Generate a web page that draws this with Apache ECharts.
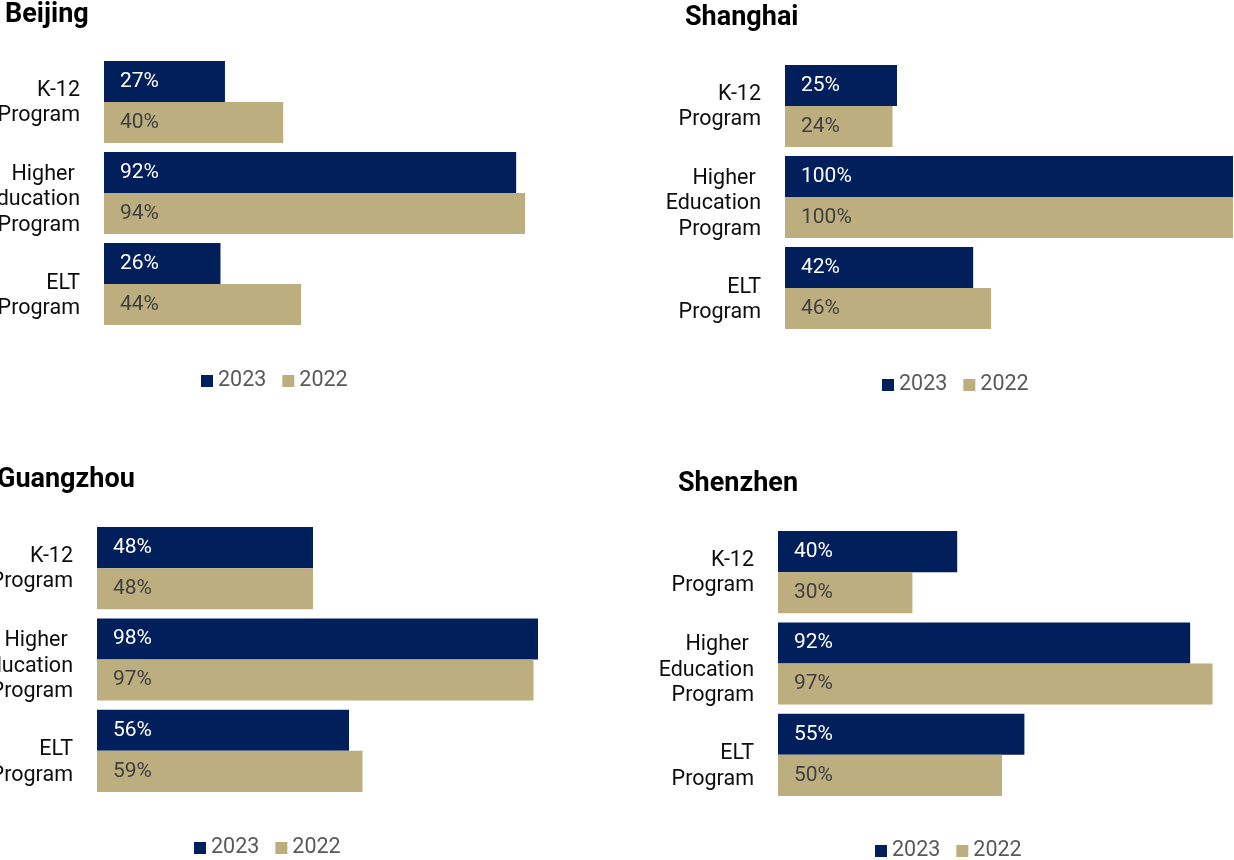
<!DOCTYPE html>
<html>
<head>
<meta charset="utf-8">
<script src="https://cdn.jsdelivr.net/npm/echarts@6/dist/echarts.min.js"></script>
<style>
  html, body { margin: 0; padding: 0; background: #ffffff; }
  #chart { width: 1234px; height: 860px; }
</style>
</head>
<body>
<div id="chart"></div>
<script>
// Program categories (top to bottom)
const categories = ['K-12\nProgram', 'Higher \nEducation\nProgram', 'ELT\nProgram'];
const seriesNames = ['2023', '2022'];

// Share by city and year (%)
const beijing2023 = [27, 92, 26];
const beijing2022 = [40, 94, 44];
const shanghai2023 = [25, 100, 42];
const shanghai2022 = [24, 100, 46];
const guangzhou2023 = [48, 98, 56];
const guangzhou2022 = [48, 97, 59];
const shenzhen2023 = [40, 92, 55];
const shenzhen2022 = [30, 97, 50];

const cityNames = ['Beijing', 'Shanghai', 'Guangzhou', 'Shenzhen'];
const cityData = [
  [beijing2023, beijing2022],
  [shanghai2023, shanghai2022],
  [guangzhou2023, guangzhou2022],
  [shenzhen2023, shenzhen2022]
];

const NAVY = '#001f5b';
const TAN = '#bcae7f';
const FONT = 'Roboto';

// Spacer lines that nudge each category label block vertically:
// [height above, height below] in px
const labelSpacers = [[2, 0], [14, 0], [24, 0]];

function categoryLabel(value, idx) {
  const sp = labelSpacers[idx] || [0, 0];
  const lines = value.split('\n').map(l => '{t|' + l + '}');
  if (sp[0]) lines.unshift('{s' + sp[0] + '| }');
  if (sp[1]) lines.push('{s' + sp[1] + '| }');
  return lines.join('\n');
}

const labelRich = { t: { fontFamily: FONT, fontSize: 21.5, color: '#0d0d0d', lineHeight: 25.5, align: 'right' } };
labelSpacers.forEach(sp => sp.forEach(h => {
  if (h) labelRich['s' + h] = { fontSize: 1, lineHeight: h, height: h };
}));

// Panel layout: grid box, title position, legend position
const panels = [
  { grid: { left: 104, top: 56.5, width: 448, height: 273 }, title: { left: 5, top: 2 }, legend: { left: 201, top: 369 } },
  { grid: { left: 785, top: 60.5, width: 448, height: 273 }, title: { left: 685, top: 5 }, legend: { left: 882, top: 373 } },
  { grid: { left: 97, top: 522.5, width: 450, height: 274 }, title: { left: -3, top: 467 }, legend: { left: 194, top: 836 } },
  { grid: { left: 778, top: 526.5, width: 448, height: 274 }, title: { left: 678, top: 471 }, legend: { left: 875, top: 839 } }
];

const option = {
  animation: false,
  backgroundColor: '#ffffff',
  title: [], legend: [], grid: [], xAxis: [], yAxis: [], series: []
};

panels.forEach((p, i) => {
  option.title.push({
    text: cityNames[i], left: p.title.left, top: p.title.top, padding: 0,
    textStyle: { fontFamily: FONT, fontSize: 27, fontWeight: 'bold', color: '#000000' }
  });
  option.legend.push({
    data: seriesNames, left: p.legend.left, top: p.legend.top, padding: 0,
    itemWidth: 12, itemHeight: 12, itemGap: 16, icon: 'rect',
    textStyle: { fontFamily: FONT, fontSize: 21.5, color: '#595959', lineHeight: 24 },
    selectedMode: false
  });
  option.grid.push(Object.assign({ containLabel: false, outerBoundsMode: 'none' }, p.grid));
  option.xAxis.push({
    type: 'value', gridIndex: i, min: 0, max: 100, show: false
  });
  option.yAxis.push({
    type: 'category', gridIndex: i, inverse: true, data: categories,
    axisLine: { show: false }, axisTick: { show: false }, splitLine: { show: false },
    axisLabel: {
      fontFamily: FONT, fontSize: 21.5, color: '#0d0d0d', lineHeight: 25.5,
      margin: 24, align: 'right', formatter: categoryLabel, rich: labelRich
    }
  });
  seriesNames.forEach((name, s) => {
    option.series.push({
      type: 'bar', name: name, xAxisIndex: i, yAxisIndex: i,
      data: cityData[i][s],
      barGap: '0%', barCategoryGap: '10%',
      itemStyle: { color: s === 0 ? NAVY : TAN },
      label: {
        show: true, position: 'insideLeft', distance: 16,
        formatter: '{c}%', fontFamily: FONT, fontSize: 21,
        color: s === 0 ? '#ffffff' : '#404040'
      }
    });
  });
});

const chart = echarts.init(document.getElementById('chart'), null, { renderer: 'canvas' });
chart.setOption(option);
</script>
</body>
</html>
